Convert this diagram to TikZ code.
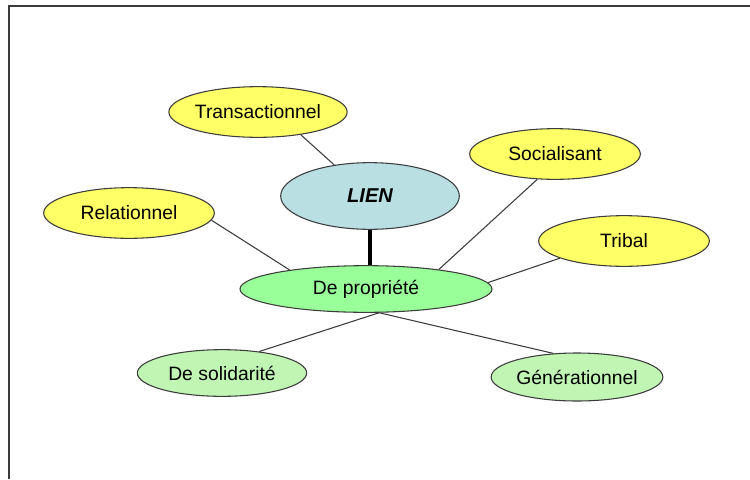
\documentclass[tikz,border=0pt]{standalone}
\usepackage{fontspec}
\setmainfont{Liberation Sans}
\usetikzlibrary{shapes.geometric}
\definecolor{yel}{RGB}{255,255,102}
\definecolor{blu}{RGB}{185,223,227}
\definecolor{grn}{RGB}{153,255,153}
\definecolor{lgrn}{RGB}{192,245,180}
\definecolor{edge}{RGB}{60,60,60}
\tikzset{
  bub/.style={ellipse, draw=edge, line width=0.8pt, inner sep=0pt, font=\fontsize{14.5}{17}\selectfont},
  ybub/.style={bub, fill=yel, minimum width=128pt, minimum height=38pt},
  gbub/.style={bub, fill=lgrn, minimum width=127pt, minimum height=35pt},
  link/.style={draw=edge, line width=0.8pt},
}
\begin{document}
\begin{tikzpicture}[x=0.75pt,y=-0.75pt]
\useasboundingbox (0,0) rectangle (750,479);
\draw[edge, line width=1.1pt] (9,479) -- (9,6) -- (750,6);
\node[ybub] (tra) at (258,112) {Transactionnel};
\node[bub, fill=blu, minimum width=134pt, minimum height=50pt, font=\fontsize{15}{18}\selectfont\bfseries\itshape] (lien) at (370,196) {LIEN};
\node[ybub] (soc) at (555,154) {Socialisant};
\node[ybub] (rel) at (129,213) {Relationnel};
\node[ybub] (tri) at (624,241) {Tribal};
\node[bub, fill=grn, minimum width=189pt, minimum height=35pt] (prop) at (366,289) {De propriété};
\node[gbub] (sol) at (222,373) {De solidarité};
\node[gbub, minimum width=128pt, minimum height=36pt] (gen) at (577,377) {Générationnel};
\draw[link] (tra.-28) -- (lien.139);
\draw[black, line width=2.4pt] (lien.south) -- (lien.south |- prop.north);
\draw[link] (soc.235) -- (prop.15);
\draw[link] (rel.-5) -- (prop.166);
\draw[link] (tri.195) -- (prop.3);
\draw[link] (prop.-61) -- (sol.30);
\draw[link] (prop.-61) -- (gen.135);
\end{tikzpicture}
\end{document}
